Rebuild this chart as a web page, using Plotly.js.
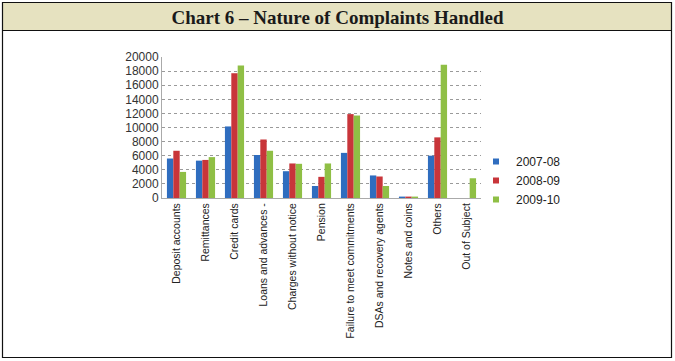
<!DOCTYPE html>
<html><head><meta charset="utf-8">
<script src="https://cdn.plot.ly/plotly-3.0.1.min.js"></script>
<style>html,body{margin:0;padding:0;background:#fff}#c{width:675px;height:361px}</style>
</head><body><div id="c"></div>
<script>
const categories = ["Deposit accounts","Remittances","Credit cards","Loans and advances -","Charges without notice","Pension","Failure to meet commitments","DSAs and recovery agents","Notes and coins","Others","Out of Subject"];
const seriesNames = ["2007-08","2008-09","2009-10"];
const v2007 = [5600,5300,10150,6100,3800,1700,6400,3200,200,6000,null];
const v2008 = [6700,5400,17700,8300,4900,3000,11900,3050,200,8600,null];
const v2009 = [3700,5800,18800,6700,4850,4900,11700,1700,200,18900,2800];
const yTicks = [0,2000,4000,6000,8000,10000,12000,14000,16000,18000,20000];
const colors = ["#2f6dbf","#c8353a","#8fbf45"];

const L=162,R=481,T=57,B=198;
const W=R-L,H=B-T;
const px=x=>(x-L)/W, py=y=>(B-y)/H;

const data=[v2007,v2008,v2009].map((v,i)=>({type:'bar',name:seriesNames[i],x:categories,y:v,showlegend:false,marker:{color:colors[i],line:{width:0}}}));
seriesNames.forEach((n,i)=>data.push({type:'scatter',mode:'markers',name:n,x:[null],y:[null],marker:{symbol:'square',size:6,color:colors[i]},hoverinfo:'skip'}));

const layout={
  width:675,height:361,
  margin:{l:L,r:675-R,t:T,b:361-B,pad:0},
  paper_bgcolor:'#fff',plot_bgcolor:'#fff',
  barmode:'group',bargap:0.34,bargroupgap:0,
  title:{text:'<b>Chart 6 – Nature of Complaints Handled</b>',font:{family:'Liberation Serif, Times New Roman, serif',size:19,color:'#1a1a1a'},x:0.5,xanchor:'center',xref:'container',y:0.952,yref:'container',yanchor:'middle'},
  xaxis:{type:'category',tickangle:-90,tickfont:{family:'Liberation Sans, Arial, sans-serif',size:10.5,color:'#222'},showline:true,linecolor:'#aaa',linewidth:1,ticks:'',showgrid:false,automargin:false},
  yaxis:{range:[0,20000],tickvals:yTicks,ticktext:yTicks.map(String),tickfont:{family:'Liberation Sans, Arial, sans-serif',size:12,color:'#333'},showgrid:true,gridcolor:'#9a9a9a',griddash:'dot',gridwidth:1,showline:true,linecolor:'#aaa',zeroline:false,ticks:'',ticklen:0,automargin:false},
  legend:{x:px(476),y:py(147),xanchor:'left',yanchor:'top',font:{family:'Liberation Sans, Arial, sans-serif',size:12,color:'#222'},itemwidth:30,bgcolor:'rgba(0,0,0,0)'},
  shapes:[
    {type:'rect',xref:'paper',yref:'paper',x0:px(3),x1:px(671),y0:py(30),y1:py(3),fillcolor:'#e6e2c0',line:{width:0},layer:'below'},
    {type:'rect',xref:'paper',yref:'paper',x0:px(2.5),x1:px(671.5),y0:py(357.5),y1:py(2.5),line:{color:'#111',width:1.2},fillcolor:'rgba(0,0,0,0)'},
    {type:'line',xref:'paper',yref:'paper',x0:px(2.5),x1:px(671.5),y0:py(30.5),y1:py(30.5),line:{color:'#111',width:1.2}}
  ]
};
Plotly.newPlot('c',data,layout,{staticPlot:true,displayModeBar:false});
</script></body></html>
